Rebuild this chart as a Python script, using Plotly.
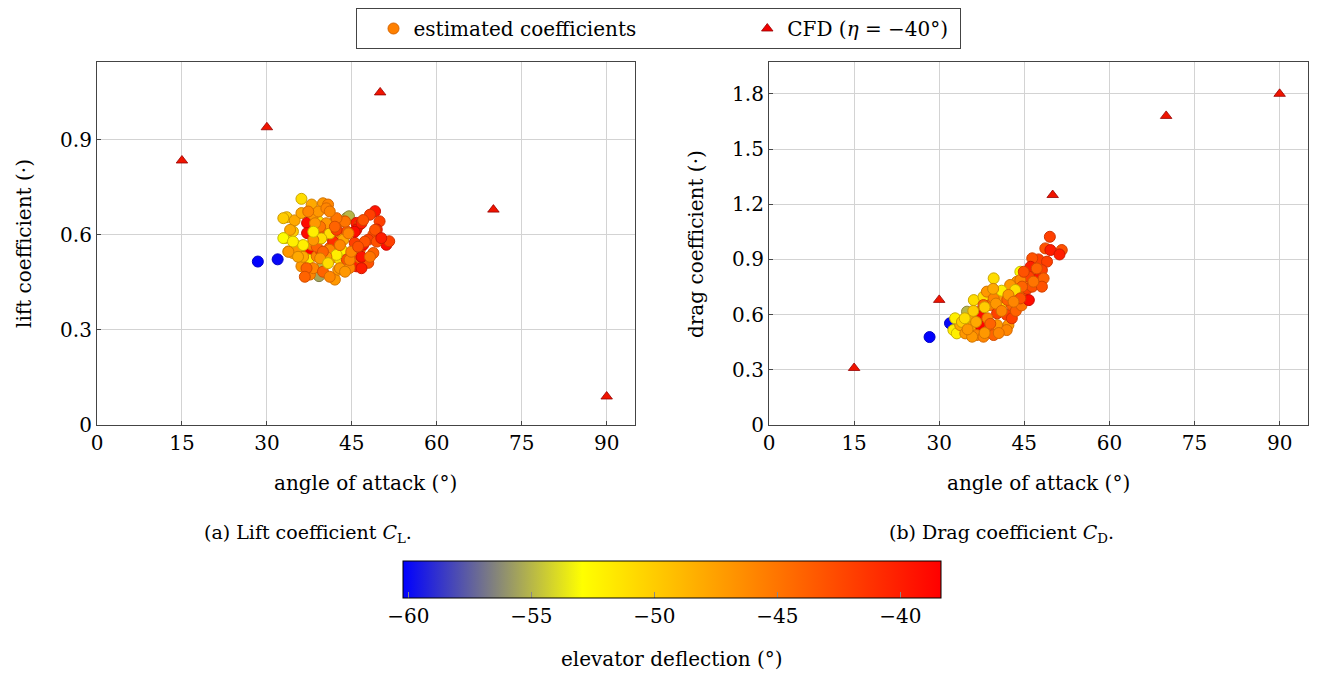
import plotly.graph_objects as go

# page body has an 8px margin: figure drawn at (8, 8)
OFF = 8
W, H = 1323 - 2 * OFF, 679 - 2 * OFF

# ---------------- data ----------------
# Lift plot: estimated coefficients (angle of attack, lift coefficient, elevator deflection)
lift_alpha = [28.4, 31.9,
    36.1, 37.9, 39.9, 40.8, 33.5, 34.9, 36.1, 37.1, 39.1, 38.2, 40.2, 42.0, 43.5,
    33.2, 34.6, 37.1, 38.5, 39.6, 41.7, 43.2, 43.1, 33.8, 34.6, 35.5, 37.3, 37.9,
    37.3, 38.8, 39.9, 39.2, 36.1, 37.6, 41.1, 42.0, 42.6, 42.9, 41.1, 41.7, 44.1,
    39.6, 44.5, 43.8, 45.8, 46.4, 49.1, 48.2, 49.9, 49.4, 48.8, 47.9, 45.8, 44.1,
    43.5, 43.2, 45.5, 46.4, 47.0, 51.1, 51.6, 48.8, 47.9, 45.8, 46.4, 44.1, 44.6,
    39.1, 40.5, 41.7, 41.1, 43.8, 45.5, 47.3, 49.1, 42.9, 35.2, 38.8, 39.6, 38.2,
    44.4, 40.5, 42.3, 42.3, 39.4, 41.1, 42.3, 40.5, 39.9, 36.4, 36.4, 38.2, 39.9,
    44.6, 46.7, 46.7,
    32.9, 34.1, 32.9, 34.6, 33.8, 35.5, 37.0, 36.7, 41.1, 43.8, 44.9, 46.1, 47.0,
    49.4, 50.2, 48.2, 46.7, 38.5, 37.3, 41.1, 42.0, 38.2, 39.4, 42.9, 40.8]
lift_coef = [0.516, 0.523,
    0.714, 0.696, 0.700, 0.696, 0.656, 0.646, 0.669, 0.638, 0.643, 0.664, 0.617, 0.643, 0.643,
    0.590, 0.611, 0.606, 0.617, 0.590, 0.585, 0.590, 0.553, 0.548, 0.543, 0.564, 0.553, 0.569,
    0.522, 0.533, 0.506, 0.470, 0.501, 0.475, 0.522, 0.459, 0.490, 0.522, 0.559, 0.606, 0.654,
    0.548, 0.659, 0.643, 0.638, 0.633, 0.675, 0.664, 0.643, 0.617, 0.601, 0.585, 0.617, 0.611,
    0.585, 0.553, 0.575, 0.553, 0.569, 0.569, 0.580, 0.543, 0.512, 0.501, 0.527, 0.522, 0.496,
    0.674, 0.684, 0.579, 0.605, 0.642, 0.610, 0.579, 0.616, 0.495, 0.553, 0.563, 0.589, 0.584,
    0.605, 0.637, 0.653, 0.616, 0.626, 0.553, 0.537, 0.531, 0.547, 0.531, 0.568, 0.495, 0.484,
    0.521, 0.531, 0.637,
    0.653, 0.616, 0.590, 0.579, 0.547, 0.531, 0.495, 0.468, 0.468, 0.484, 0.547, 0.563, 0.647,
    0.579, 0.590, 0.531, 0.495, 0.637, 0.674, 0.674, 0.626, 0.610, 0.526, 0.568, 0.511]
lift_eta = [-60.2, -60.0,
    -51, -48, -47, -46, -50, -48, -48, -39, -51, -47, -43, -46, -47,
    -52, -50, -39, -46, -44, -43, -47, -51, -51, -48, -48, -38.5, -46,
    -52, -46, -55, -55.5, -47, -46, -46, -47, -47, -51, -44, -46, -55,
    -42, -55, -47, -40, -43, -39.5, -42, -42, -40, -43, -42, -39.5, -43,
    -48, -52, -42, -46, -39, -39, -42, -44, -43, -40, -44, -43, -46,
    -47, -46, -41, -51, -45, -39, -43, -43, -47, -47, -44, -51, -47,
    -46, -47, -45, -42, -45, -46, -52, -47, -44, -48, -52, -46, -44,
    -46, -39.5, -40,
    -50, -48, -53, -52, -47, -48, -44, -44, -46, -47, -46, -43, -43,
    -43, -40, -45, -40, -47, -46, -46, -44, -52, -47, -46, -51]

# Drag plot: estimated coefficients (angle of attack, drag coefficient, elevator deflection)
drag_alpha = [28.3, 31.9,
    32.5, 33.1, 33.7, 34.6, 34.9, 35.5, 35.8, 36.1, 37.2, 37.2, 37.4, 36.6, 37.8,
    37.8, 38.4, 39.6, 39.0, 40.2, 40.2, 41.6, 41.9, 42.2, 42.8, 43.4, 43.7, 44.3,
    42.8, 44.9, 40.8, 42.5, 35.8, 38.4, 39.6, 41.9, 37.8, 39.6,
    32.8, 34.0, 35.0, 36.5, 38.5, 39.0, 38.0, 40.0, 41.0, 41.0, 42.0, 43.5, 44.0,
    45.0, 45.5, 47.0, 47.5, 44.5, 36.0, 34.5, 40.5, 38.0, 39.5,
    49.5, 48.7, 49.6, 51.6, 51.2, 46.4, 46.1, 49.0, 48.1, 47.5, 45.8, 48.4, 46.4,
    48.1, 44.3, 44.6, 43.4, 45.8, 44.3, 42.2, 43.1, 47.2, 44.9, 46.6]
drag_coef = [0.478, 0.553,
    0.516, 0.498, 0.543, 0.498, 0.616, 0.580, 0.534, 0.679, 0.616, 0.589, 0.534, 0.489, 0.480,
    0.697, 0.725, 0.797, 0.652, 0.607, 0.543, 0.670, 0.598, 0.543, 0.652, 0.725, 0.779, 0.833,
    0.580, 0.688, 0.697, 0.761, 0.480, 0.507, 0.489, 0.516, 0.652, 0.688,
    0.580, 0.560, 0.520, 0.560, 0.580, 0.550, 0.640, 0.660, 0.620, 0.730, 0.680, 0.620, 0.720,
    0.780, 0.740, 0.820, 0.900, 0.650, 0.620, 0.580, 0.500, 0.500, 0.740,
    1.023, 0.960, 0.951, 0.951, 0.927, 0.906, 0.860, 0.888, 0.842, 0.797, 0.806, 0.797, 0.752,
    0.752, 0.788, 0.752, 0.734, 0.679, 0.688, 0.707, 0.670, 0.851, 0.833, 0.779]
drag_eta = [-60.2, -60.0,
    -52, -52, -48, -47, -55, -47, -48, -51, -39, -39, -38.5, -46, -46,
    -51, -47, -51, -45, -42, -47, -51, -42, -47, -44, -52, -47, -53,
    -42, -43, -47, -47, -47, -46, -44, -46, -44, -46,
    -52, -50, -47, -48, -46, -44, -50, -47, -46, -52, -44, -44, -47,
    -46, -42, -43, -42, -45, -50, -51, -46, -47, -48,
    -42, -43, -40, -43, -40, -43, -40, -42, -42, -39.5, -42, -44, -43,
    -43, -46, -44, -51, -39, -43, -47, -46, -44, -43, -45]

# CFD reference values (eta = -40 deg)
cfd_alpha = [15, 30, 50, 70, 90]
cfd_lift = [0.835, 0.94, 1.05, 0.68, 0.09]
cfd_drag = [0.31, 0.68, 1.25, 1.68, 1.80]

x_ticks = [0, 15, 30, 45, 60, 75, 90]
lift_ticks = [0, 0.3, 0.6, 0.9]
lift_tick_text = ["0", "0.3", "0.6", "0.9"]
drag_ticks = [0, 0.3, 0.6, 0.9, 1.2, 1.5, 1.8]
drag_tick_text = ["0", "0.3", "0.6", "0.9", "1.2", "1.5", "1.8"]
cbar_ticks = [-60, -55, -50, -45, -40]
cbar_tick_text = ["\u221260", "\u221255", "\u221250", "\u221245", "\u221240"]

# ---------------- style ----------------
FONT = "DejaVu Serif"
FS = 20
CMIN, CMAX = -60.22, -38.35
cscale = [[0, "rgb(0,0,255)"], [1/3, "rgb(255,255,0)"], [2/3, "rgb(255,128,0)"], [1, "rgb(255,0,0)"]]
cscale_dark = [[0, "rgb(0,0,200)"], [1/3, "rgb(200,190,0)"], [2/3, "rgb(215,100,0)"], [1, "rgb(200,0,0)"]]

def px(x):
    return (x - OFF) / W

def py(y):
    return 1 - (y - OFF) / H

fig = go.Figure()

def est_marker(eta, show):
    m = dict(size=11, color=eta, colorscale=cscale, cmin=CMIN, cmax=CMAX,
             line=dict(width=1, color=eta, colorscale=cscale_dark, cmin=CMIN, cmax=CMAX),
             opacity=1)
    if show:
        m.update(showscale=True, colorbar=dict(
            orientation="h", x=px(672), xanchor="center", y=py(561), yanchor="top",
            len=538 / W, lenmode="fraction", thickness=37, thicknessmode="pixels",
            outlinewidth=1, outlinecolor="black", xpad=0, ypad=0,
            tickvals=cbar_ticks, ticktext=cbar_tick_text,
            ticks="inside", ticklen=6, tickcolor="#888", tickwidth=1,
            tickfont=dict(family=FONT, size=FS, color="black"),
        ))
    else:
        m.update(showscale=False)
    return m

tri = dict(symbol="triangle-up", size=10, color="rgb(240,20,0)", line=dict(width=0.8, color="rgb(150,0,0)"))

fig.add_trace(go.Scatter(x=lift_alpha, y=lift_coef, mode="markers", xaxis="x", yaxis="y",
                         marker=est_marker(lift_eta, True), showlegend=False))
fig.add_trace(go.Scatter(x=cfd_alpha, y=cfd_lift, mode="markers", xaxis="x", yaxis="y",
                         marker=tri, showlegend=False))
fig.add_trace(go.Scatter(x=drag_alpha, y=drag_coef, mode="markers", xaxis="x2", yaxis="y2",
                         marker=est_marker(drag_eta, False), showlegend=False))
fig.add_trace(go.Scatter(x=cfd_alpha, y=cfd_drag, mode="markers", xaxis="x2", yaxis="y2",
                         marker=tri, showlegend=False))

# legend entries
NB = "\u00a0"
fig.add_trace(go.Scatter(x=[None], y=[None], mode="markers", name="estimated coefficients" + NB * 14,
                         marker=dict(size=11, color="rgb(255,128,0)", line=dict(width=1, color="rgb(215,100,0)"))))
fig.add_trace(go.Scatter(x=[None], y=[None], mode="markers", name="CFD (<i>\u03b7</i> = \u221240\u00b0)" + NB,
                         marker=dict(symbol="triangle-up", size=10, color="rgb(240,0,0)",
                                     line=dict(width=0.8, color="rgb(150,0,0)"))))

axis_common = dict(showgrid=True, gridcolor="#d3d3d3", gridwidth=1, zeroline=False,
                   showline=True, linecolor="#444", linewidth=1.2, mirror=True,
                   ticks="inside", ticklen=4, tickcolor="#444",
                   tickfont=dict(family=FONT, size=FS, color="black"), automargin=False)

fig.update_layout(
    width=W, height=H, autosize=False,
    margin=dict(l=0, r=0, t=0, b=0, autoexpand=False),
    paper_bgcolor="white", plot_bgcolor="white",
    xaxis=dict(domain=[px(97), px(635)], range=[0, 95], tickvals=x_ticks, anchor="y", **axis_common),
    yaxis=dict(domain=[py(425), py(62)], range=[0, 1.146], tickvals=lift_ticks, ticktext=lift_tick_text,
               anchor="x", **axis_common),
    xaxis2=dict(domain=[px(769), px(1308)], range=[0, 95], tickvals=x_ticks, anchor="y2", **axis_common),
    yaxis2=dict(domain=[py(425), py(62)], range=[0, 1.973], tickvals=drag_ticks, ticktext=drag_tick_text,
                anchor="x2", **axis_common),
    legend=dict(orientation="h", x=px(658), xanchor="center", y=1.0, yanchor="top",
                bordercolor="#444", borderwidth=1, bgcolor="white", indentation=17,
                font=dict(family=FONT, size=FS, color="black"), itemwidth=30),
    font=dict(family=FONT, size=FS, color="black"),
)

def ann(text, x, y, angle=0, size=FS):
    fig.add_annotation(text=text, x=px(x), y=py(y), xref="paper", yref="paper",
                       showarrow=False, textangle=angle, xanchor="center", yanchor="middle",
                       font=dict(family=FONT, size=size, color="black"))

ann("angle of attack (\u00b0)", 366, 483)
ann("angle of attack (\u00b0)", 1038, 483)
ann("lift coefficient (\u00b7)", 24, 244, angle=-90)
ann("drag coefficient (\u00b7)", 696, 244, angle=-90)
ann("(a) Lift coefficient <i>C</i><sub>L</sub>.", 308, 533, size=19)
ann("(b) Drag coefficient <i>C</i><sub>D</sub>.", 1001, 533, size=19)
ann("elevator deflection (\u00b0)", 672, 659)

fig.write_html("out.html")
